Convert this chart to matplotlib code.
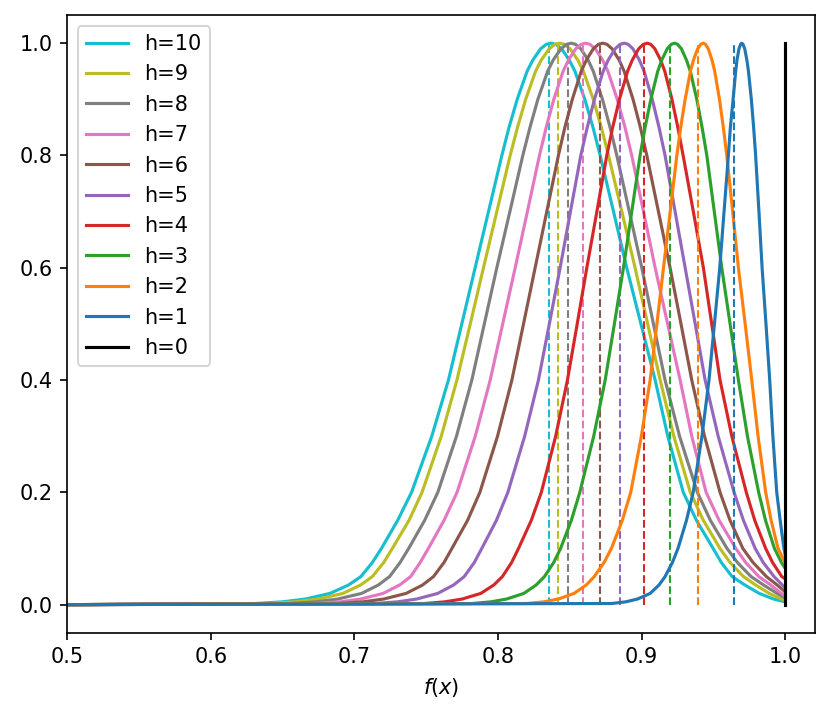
import matplotlib
matplotlib.use("Agg")
import matplotlib.pyplot as plt

# values
h_values = [10, 9, 8, 7, 6, 5, 4, 3, 2, 1]

# rising side: x where each curve reaches these levels (all start at 0 at x=0.5)
rise_levels = [0.002, 0.005, 0.01, 0.02, 0.035, 0.05, 0.075, 0.1, 0.15, 0.2, 0.3,
               0.4, 0.5, 0.6, 0.7, 0.8, 0.85, 0.9, 0.95, 0.97, 0.99, 0.998]
rise_x = {
    10: [.631, .650, .6658, .683, .6959, .7045, .7125, .7188, .7301, .7398, .7539,
         .7655, .7748, .7841, .7934, .8027, .8077, .8134, .8203, .8243, .8297, .8337],
    9: [.640, .659, .6748, .692, .7043, .7125, .7204, .7264, .7380, .7471, .7605,
        .7714, .7807, .7899, .7992, .8085, .8136, .8193, .8262, .8302, .8357, .8397],
    8: [.6545, .673, .6884, .705, .7167, .7245, .7318, .7378, .7489, .7581, .7711,
        .7818, .7905, .7992, .8083, .8173, .8223, .8278, .8346, .8385, .8439, .8478],
    7: [.6727, .690, .7044, .720, .7315, .7392, .7458, .7515, .7624, .7715, .7842,
        .7946, .8033, .8120, .8205, .8289, .8336, .8389, .8454, .8491, .8542, .8580],
    6: [.6887, .706, .7204, .736, .7475, .7551, .7624, .7679, .7788, .7874, .7997,
        .8097, .8178, .8259, .8340, .8421, .8466, .8518, .8580, .8616, .8664, .8700],
    5: [.7139, .730, .7434, .758, .7691, .7765, .7835, .7887, .7989, .8069, .8186,
        .8282, .8358, .8433, .8505, .8577, .8622, .8672, .8733, .8768, .8816, .8851],
    4: [.7486, .763, .775, .788, .7971, .8031, .8095, .8143, .8232, .8302, .8402,
        .8484, .8552, .8619, .8689, .8758, .8799, .8846, .8903, .8936, .8980, .9013],
    3: [.7818, .795, .806, .818, .8266, .8324, .8388, .8436, .8511, .8570, .8667,
        .8747, .8811, .8874, .8932, .8990, .9025, .9065, .9113, .9141, .9179, .9207],
    2: [.8199, .832, .8421, .853, .8615, .8671, .8739, .8790, .8866, .8925, .8999,
        .9060, .9107, .9153, .9200, .9246, .9273, .9304, .9341, .9362, .9391, .9413],
    1: [.8792, .889, .8972, .906, .9122, .9164, .9215, .9254, .9313, .9360, .9421,
        .9470, .9508, .9545, .9575, .9605, .9619, .9638, .9656, .9665, .9679, .9690],
}

peak_x = {10: .837, 9: .843, 8: .851, 7: .861, 6: .873,
          5: .888, 4: .904, 3: .923, 2: .943, 1: .9698}

# falling side (None = level not reached before x=1)
fall_levels = [0.998, 0.99, 0.97, 0.95, 0.9, 0.85, 0.8, 0.7, 0.6, 0.5,
               0.4, 0.3, 0.2, 0.15, 0.1, 0.075, 0.05, 0.035, 0.02, 0.01]
fall_x = {
    10: [.8403, .8443, .8497, .8536, .8605, .8662, .8712, .8805, .8897, .8996,
         .9095, .9183, .9291, .9383, .9499, .9556, .9631, .9720, .9820, .9920],
    9: [.8462, .8502, .8556, .8595, .8664, .8720, .8770, .8863, .8955, .9043,
        .9130, .9225, .9340, .9431, .9547, .9617, .9710, .9795, .9890, .9975],
    8: [.8540, .8577, .8628, .8664, .8728, .8781, .8828, .8915, .9002, .9083,
        .9164, .9265, .9389, .9480, .9596, .9668, .9763, .9850, .9945, None],
    7: [.8640, .8678, .8729, .8766, .8831, .8885, .8932, .9014, .9095, .9182,
        .9269, .9350, .9450, .9541, .9657, .9726, .9817, .9900, .9975, None],
    6: [.8759, .8795, .8844, .8879, .8941, .8992, .9037, .9118, .9199, .9275,
        .9350, .9439, .9547, .9617, .9706, .9777, .9870, .9945, None, None],
    5: [.8907, .8940, .8985, .9018, .9075, .9122, .9164, .9234, .9304, .9374,
        .9443, .9534, .9645, .9710, .9792, .9848, .9923, None, None, None],
    4: [.9064, .9093, .9133, .9162, .9212, .9253, .9290, .9361, .9431, .9489,
        .9547, .9629, .9730, .9789, .9865, .9913, .9977, None, None, None],
    3: [.9251, .9278, .9313, .9340, .9385, .9422, .9455, .9507, .9559, .9617,
        .9675, .9738, .9816, .9864, .9926, .9975, None, None, None, None],
    2: [.9446, .9465, .9491, .9510, .9543, .9570, .9594, .9635, .9675, .9722,
        .9768, .9812, .9865, .9903, .9951, None, None, None, None, None],
    1: [.9707, .9719, .9734, .9745, .9765, .9781, .9795, .9818, .9840, .9867,
        .9893, .9915, .9942, .9966, .9992, None, None, None, None, None],
}

# value of each curve at x = 1
end_y = {10: 0.005, 9: 0.008, 8: 0.012, 7: 0.016, 6: 0.023,
         5: 0.030, 4: 0.046, 3: 0.065, 2: 0.075, 1: 0.09}

# dashed vertical markers
mean_x = {10: 0.8355, 9: 0.8415, 8: 0.849, 7: 0.859, 6: 0.871,
          5: 0.885, 4: 0.9015, 3: 0.920, 2: 0.9395, 1: 0.9645}

x_start = 0.5
x_end = 1.0

fig = plt.figure(figsize=(8.31 / 1.5, 7.19 / 1.5), dpi=150)
ax = fig.add_subplot(111)
fig.subplots_adjust(left=0.081, right=0.981, top=0.979, bottom=0.12)

for h in h_values:
    col = "C%d" % (h - 1)
    xs = [x_start] + rise_x[h] + [peak_x[h]]
    ys = [0.0] + rise_levels + [1.0]
    for xv, lv in zip(fall_x[h], fall_levels):
        if xv is not None:
            xs.append(xv)
            ys.append(lv)
    xs.append(x_end)
    ys.append(end_y[h])
    ax.plot(xs, ys, color=col, label="h=%d" % h)
    ax.plot([mean_x[h], mean_x[h]], [0, 1], color=col, ls="--", lw=1)

ax.plot([x_end, x_end], [0, 1], color="black", label="h=0")

ax.set_xlim(0.5, 1.021)
ax.set_ylim(-0.05, 1.05)
ax.set_xlabel("$f(x)$")
ax.legend(loc="upper left")

fig.savefig("out.png", dpi=150)
